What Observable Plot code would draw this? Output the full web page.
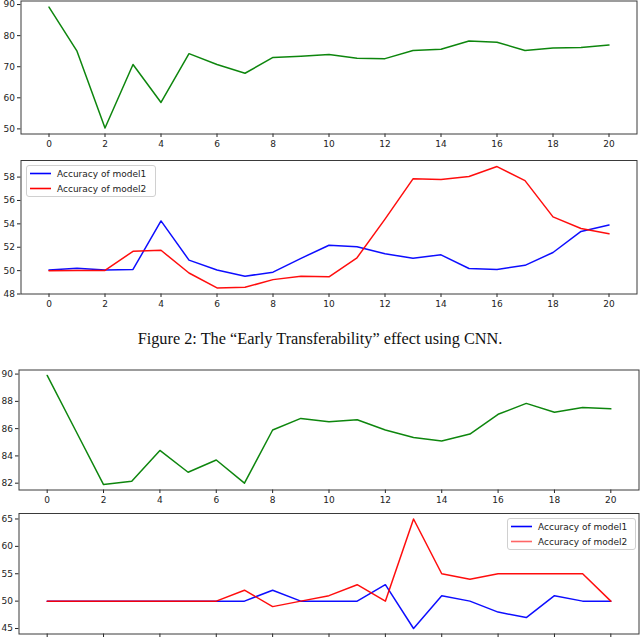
<!DOCTYPE html>
<html>
<head>
<meta charset="utf-8">
<script src="https://cdn.jsdelivr.net/npm/d3@7"></script>
<script src="https://cdn.jsdelivr.net/npm/@observablehq/plot@0.6"></script>
<style>
  html, body { margin: 0; padding: 0; background: #fff; }
  body { width: 640px; height: 642px; position: relative; overflow: hidden; font-family: "DejaVu Sans", sans-serif; }
  .panel { position: absolute; left: 0; }
  .legend { position: absolute; border: 1px solid #d0d0d0; border-radius: 3px; background: rgba(255,255,255,0.85); box-sizing: border-box; font-family: "DejaVu Sans", sans-serif; font-size: 9px; color: #222; }
  .legend .row { position: absolute; left: 0; height: 14px; width: 100%; }
  .legend svg { position: absolute; left: 3px; top: 0px; }
  .legend .lab { position: absolute; left: 30px; top: 1px; white-space: nowrap; line-height: 12px; }
  .caption { position: absolute; left: 0; width: 640px; text-align: center; font-family: "Liberation Serif", "Times New Roman", serif; font-size: 16.3px; color: #111; }
</style>
</head>
<body>
<div id="p1" class="panel" style="top:0px"></div>
<div id="p2" class="panel" style="top:152px"></div>
<div class="caption" style="top:329px">Figure 2: The “Early Transferability” effect using CNN.</div>
<div id="p3" class="panel" style="top:355px"></div>
<div id="p4" class="panel" style="top:507px"></div>
<script>
// ---------- data ----------
const epochs = [0,1,2,3,4,5,6,7,8,9,10,11,12,13,14,15,16,17,18,19,20];
const xTicks = [0,2,4,6,8,10,12,14,16,18,20];

// Figure 2 (CNN), top panel: target accuracy
const cnnTarget = [89.2, 75.0, 50.3, 70.7, 58.5, 74.2, 70.7, 67.9, 73.0, 73.4, 73.9, 72.7, 72.6, 75.2, 75.6, 78.3, 77.9, 75.2, 76.0, 76.2, 77.0];
const cnnTargetTicks = [50, 60, 70, 80, 90];

// Figure 2 (CNN), bottom panel
const cnnModel1 = [50.05, 50.2, 50.05, 50.1, 54.25, 50.9, 50.05, 49.52, 49.87, 51.05, 52.17, 52.05, 51.45, 51.05, 51.35, 50.18, 50.1, 50.45, 51.55, 53.35, 53.9];
const cnnModel2 = [50.0, 50.02, 50.02, 51.65, 51.74, 49.8, 48.52, 48.57, 49.23, 49.52, 49.47, 51.1, 54.4, 57.85, 57.8, 58.05, 58.9, 57.7, 54.6, 53.6, 53.15];
const cnnModelTicks = [48, 50, 52, 54, 56, 58];

// Second figure, top panel
const secTarget = [89.9, 85.9, 81.9, 82.15, 84.4, 82.8, 83.7, 82.0, 85.9, 86.75, 86.5, 86.65, 85.9, 85.35, 85.1, 85.6, 87.05, 87.85, 87.2, 87.55, 87.45];
const secTargetTicks = [82, 84, 86, 88, 90];

// Second figure, bottom panel
const secModel1 = [50, 50, 50, 50, 50, 50, 50, 50, 52, 50, 50, 50, 53, 45, 51, 50, 48, 47, 51, 50, 50];
const secModel2 = [50, 50, 50, 50, 50, 50, 50, 52, 49, 50, 51, 53, 50, 65, 55, 54, 55, 55, 55, 55, 50];
const secModelTicks = [45, 50, 55, 60, 65];

const seriesNames = ["Accuracy of model1", "Accuracy of model2"];
const seriesColors = ["blue", "red"];

// ---------- helpers ----------
function pad(vals) {
  const lo = d3.min(vals), hi = d3.max(vals), m = (hi - lo) * 0.05;
  return [lo - m, hi + m];
}
const xDomain = [epochs[0] - 1, epochs[epochs.length - 1] + 1];

function toRows(ys, name) { return epochs.map((e, i) => ({epoch: e, acc: ys[i], series: name})); }

function panel(el, opts) {
  const {series, ticks, height, mt, mb, ml, mr, xLabels = true} = opts;
  const all = series.flatMap(s => s.values);
  const marks = [];
  for (const s of series) {
    marks.push(Plot.line(toRows(s.values, s.name), {x: "epoch", y: "acc", stroke: s.color, strokeWidth: 1.5, strokeOpacity: 0.95}));
  }
  marks.push(Plot.axisX({ticks: xTicks, tickSize: 3.5, tickPadding: 3, fontSize: 9, label: null,
    tickFormat: xLabels ? (d => d) : (() => "")}));
  marks.push(Plot.axisY({ticks: ticks, tickSize: 3.5, tickPadding: 2.5, fontSize: 9, label: null}));
  marks.push(Plot.frame({stroke: "#3a3a3a", strokeWidth: 1}));
  const p = Plot.plot({
    width: 640, height,
    marginTop: mt, marginBottom: mb, marginLeft: ml, marginRight: mr,
    x: {domain: xDomain},
    y: {domain: pad(all)},
    style: {fontFamily: "DejaVu Sans, sans-serif", color: "#222", background: "transparent"},
    marks
  });
  document.getElementById(el).appendChild(p);
}

function legend(left, top, width, height, colors, opacities) {
  const box = document.createElement("div");
  box.className = "legend";
  Object.assign(box.style, {left: left + "px", top: top + "px", width: width + "px", height: height + "px"});
  seriesNames.forEach((n, i) => {
    const row = document.createElement("div");
    row.className = "row";
    row.style.top = (1 + i * 14.5) + "px";
    const svg = d3.create("svg").attr("width", 22).attr("height", 14);
    svg.append("line").attr("x1", 0).attr("x2", 21).attr("y1", 6.5).attr("y2", 6.5)
      .attr("stroke", colors[i]).attr("stroke-width", 1.6).attr("stroke-opacity", opacities[i]);
    const lab = document.createElement("div");
    lab.className = "lab";
    lab.textContent = n;
    row.appendChild(svg.node()); row.appendChild(lab);
    box.appendChild(row);
  });
  document.body.appendChild(box);
}

// ---------- panels ----------
panel("p1", {series: [{name: "target", values: cnnTarget, color: "green"}], ticks: cnnTargetTicks,
  height: 152, mt: 0.5, mb: 18.5, ml: 20.5, mr: 3.5});
panel("p2", {series: [{name: seriesNames[0], values: cnnModel1, color: seriesColors[0]}, {name: seriesNames[1], values: cnnModel2, color: seriesColors[1]}],
  ticks: cnnModelTicks, height: 160, mt: 8, mb: 18.5, ml: 20.5, mr: 3.5});
panel("p3", {series: [{name: "target", values: secTarget, color: "green"}], ticks: secTargetTicks,
  height: 152, mt: 14.5, mb: 17.5, ml: 18.5, mr: 1.5});
panel("p4", {series: [{name: seriesNames[0], values: secModel1, color: seriesColors[0]}, {name: seriesNames[1], values: secModel2, color: seriesColors[1]}],
  ticks: secModelTicks, height: 135, mt: 6, mb: 8.5, ml: 18.5, mr: 1.5, xLabels: false});

legend(26, 165, 130, 32, seriesColors, [1, 1]);
legend(507, 518, 129, 32, seriesColors, [1, 0.6]);
</script>
</body>
</html>
